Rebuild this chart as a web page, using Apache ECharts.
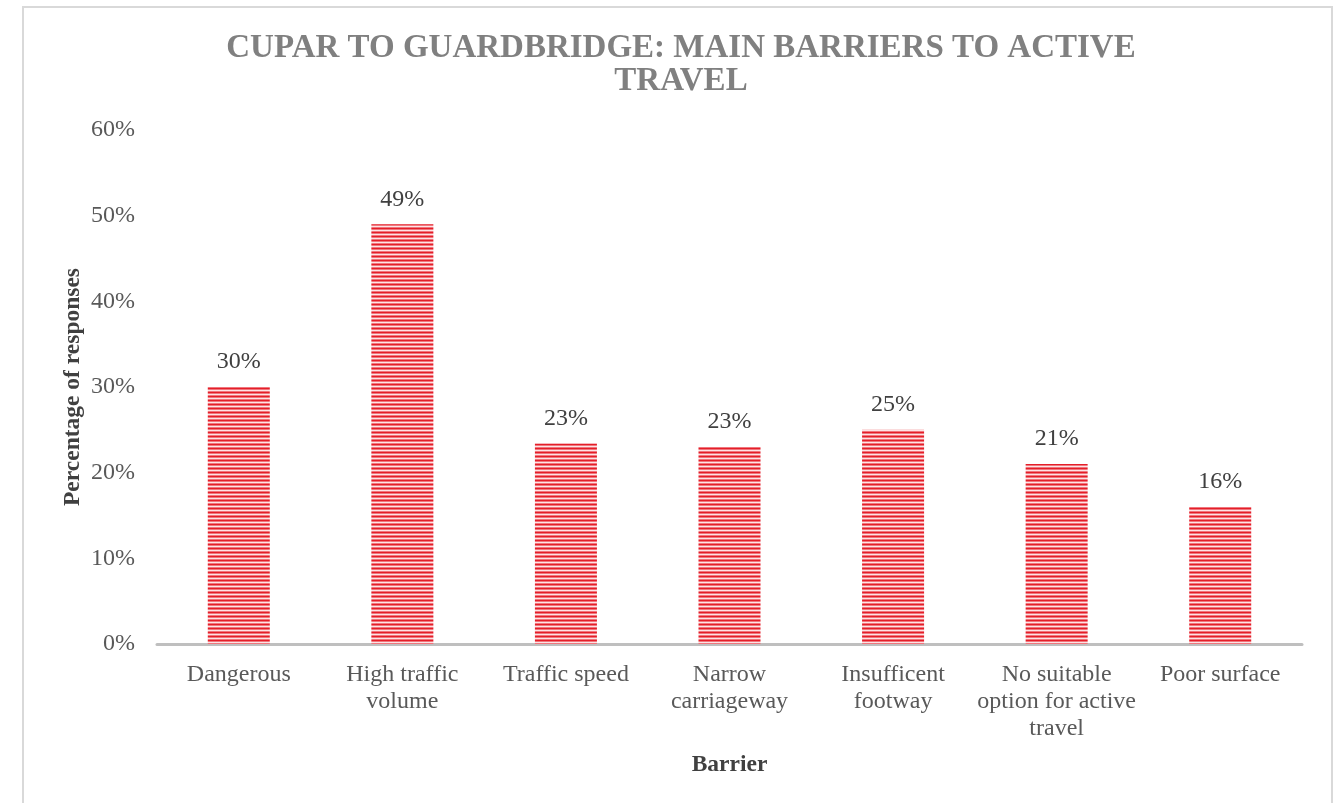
<!DOCTYPE html>
<html>
<head>
<meta charset="utf-8">
<script src="https://cdn.jsdelivr.net/npm/echarts@6/dist/echarts.min.js"></script>
<style>
  html, body { margin: 0; padding: 0; background: #fff; }
  #chart { width: 1342px; height: 803px; }
</style>
</head>
<body>
<div id="chart"></div>
<script>
const categories = [
  "Dangerous",
  "High traffic\nvolume",
  "Traffic speed",
  "Narrow\ncarriageway",
  "Insufficent\nfootway",
  "No suitable\noption for active\ntravel",
  "Poor surface",
];
const shares = [30, 49, 23.4, 23, 25, 21, 16];
const yTicks = [0, 10, 20, 30, 40, 50, 60];

const serif = '"Liberation Serif", "Times New Roman", serif';

// striped fill like the original horizontal-line pattern
const makeStripes = () => {
  const c = document.createElement("canvas");
  c.width = 4;
  c.height = 4;
  const ctx = c.getContext("2d");
  const rows = ["#e41e28", "#f0767d", "#fde3e5", "#f0767d"];
  rows.forEach((col, i) => {
    ctx.fillStyle = col;
    ctx.fillRect(0, i, 4, 1);
  });
  return c;
};

const chart = echarts.init(document.getElementById("chart"));

chart.setOption({
  animation: false,
  backgroundColor: "#fff",
  title: {
    text: "CUPAR TO GUARDBRIDGE: MAIN BARRIERS TO ACTIVE\nTRAVEL",
    left: 676,
    top: 27,
    textAlign: "center",
    textStyle: {
      fontFamily: serif,
      fontWeight: "bold",
      fontSize: 33,
      color: "#808080",
      lineHeight: 33,
    },
  },
  graphic: [
    {
      type: "rect",
      shape: { x: 23, y: 7, width: 1309, height: 820 },
      style: { fill: null, stroke: "#d9d9d9", lineWidth: 2 },
      silent: true,
    },
  ],
  grid: { left: 157, right: 40, top: 130, bottom: 159 },
  xAxis: {
    type: "category",
    data: categories,
    name: "Barrier",
    nameLocation: "middle",
    nameGap: 109,
    nameTextStyle: {
      fontFamily: serif,
      fontWeight: "bold",
      fontSize: 23.5,
      color: "#404040",
    },
    axisLine: { lineStyle: { color: "#bfbfbf", width: 3 } },
    axisTick: { show: false },
    axisLabel: {
      fontFamily: serif,
      fontSize: 24,
      color: "#595959",
      lineHeight: 27,
      margin: 17,
      interval: 0,
    },
  },
  yAxis: {
    type: "value",
    min: 0,
    max: 60,
    interval: 10,
    name: "Percentage of responses",
    nameLocation: "middle",
    nameGap: 72,
    nameMoveOverlap: false,
    nameTextStyle: {
      fontFamily: serif,
      fontWeight: "bold",
      fontSize: 23.5,
      color: "#404040",
    },
    axisLine: { show: false },
    axisTick: { show: false },
    splitLine: { show: false },
    axisLabel: {
      fontFamily: serif,
      fontSize: 24,
      color: "#595959",
      margin: 22,
      formatter: (v) => (yTicks.includes(v) ? v + "%" : ""),
    },
  },
  series: [
    {
      type: "bar",
      data: shares,
      barWidth: 62,
      itemStyle: {
        color: { image: makeStripes(), repeat: "repeat" },
      },
      label: {
        show: true,
        position: "top",
        distance: 13,
        fontFamily: serif,
        fontSize: 24,
        color: "#404040",
        formatter: (p) => Math.round(p.value) + "%",
      },
    },
  ],
});
</script>
</body>
</html>
